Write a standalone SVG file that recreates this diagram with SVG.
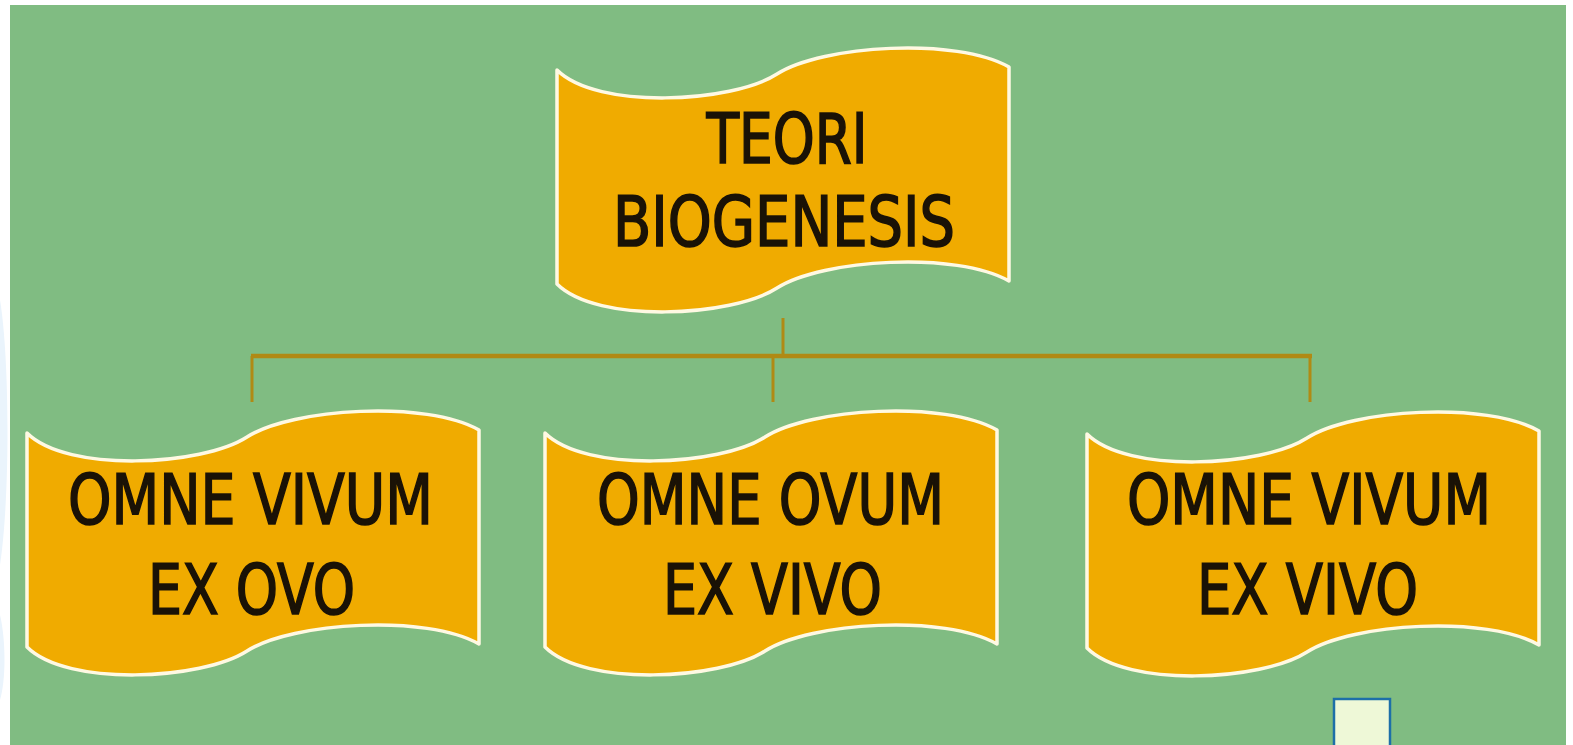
<svg xmlns="http://www.w3.org/2000/svg" xmlns:xlink="http://www.w3.org/1999/xlink" width="1573" height="745" viewBox="0 0 1573 745">
<style>
.banner{fill:#F0AB00;stroke:#FFF9E3;stroke-width:3.5;stroke-linejoin:round}
.lbl{font-family:"DejaVu Sans Condensed","DejaVu Sans","Liberation Sans",sans-serif;font-size:70px;fill:#1A1206;stroke:#1A1206;stroke-width:1.6;text-anchor:middle}
.conn{stroke:#B08A14;fill:none}
</style>
<defs>
<path id="wave" d="M0,0 C40,40 175,33 220,4 C265,-25 400,-33 452,-3 L452,211 C400,181 265,189 220,218 C175,247 40,254 0,214 Z"/>
</defs>
<rect width="1573" height="745" fill="#ffffff"/>
<path d="M0,300 C10,360 10,500 0,565 Z M0,615 C6,640 6,680 0,700 Z" fill="#EAF4FC"/>
<rect x="10" y="5" width="1556" height="740" fill="#80BC82"/>
<g id="connectors">
<line class="conn" x1="783" y1="318" x2="783" y2="356" stroke-width="3"/>
<line class="conn" x1="251" y1="356" x2="1312" y2="356" stroke-width="4.5"/>
<line class="conn" x1="252" y1="356" x2="252" y2="402" stroke-width="3"/>
<line class="conn" x1="773" y1="356" x2="773" y2="402" stroke-width="3"/>
<line class="conn" x1="1310" y1="356" x2="1310" y2="402" stroke-width="3"/>
</g>
<g id="node-teori">
<use xlink:href="#wave" class="banner" x="557" y="70"/>
<text class="lbl" x="787" y="163" textLength="161" lengthAdjust="spacingAndGlyphs">TEORI</text>
<text class="lbl" x="784" y="246" textLength="342" lengthAdjust="spacingAndGlyphs">BIOGENESIS</text>
</g>
<g id="node-vivum-ovo">
<use xlink:href="#wave" class="banner" x="27" y="433"/>
<text class="lbl" x="250.5" y="524" textLength="365" lengthAdjust="spacingAndGlyphs">OMNE VIVUM</text>
<text class="lbl" x="251.5" y="614" textLength="207" lengthAdjust="spacingAndGlyphs">EX OVO</text>
</g>
<g id="node-ovum-vivo">
<use xlink:href="#wave" class="banner" x="545" y="433"/>
<text class="lbl" x="770.5" y="524" textLength="347" lengthAdjust="spacingAndGlyphs">OMNE OVUM</text>
<text class="lbl" x="772.5" y="614" textLength="219" lengthAdjust="spacingAndGlyphs">EX VIVO</text>
</g>
<g id="node-vivum-vivo">
<use xlink:href="#wave" class="banner" x="1087" y="434"/>
<text class="lbl" x="1309" y="524" textLength="364" lengthAdjust="spacingAndGlyphs">OMNE VIVUM</text>
<text class="lbl" x="1307.5" y="614" textLength="221" lengthAdjust="spacingAndGlyphs">EX VIVO</text>
</g>
<rect x="1334" y="699" width="56" height="50" fill="#EEF8D7" stroke="#1D6FA8" stroke-width="2.5"/>
</svg>
